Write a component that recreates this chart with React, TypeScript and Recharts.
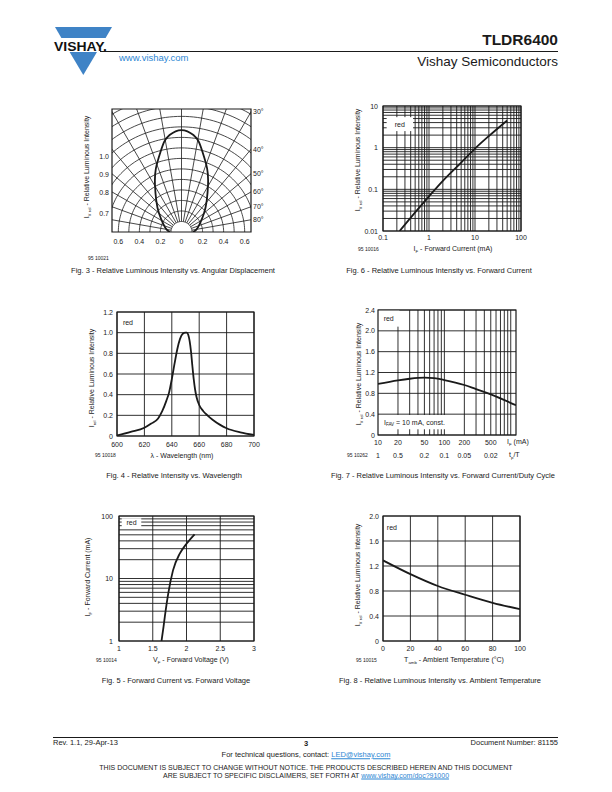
import React from "react";
import { ComposedChart, Line, XAxis, YAxis, CartesianGrid, ReferenceArea, ReferenceLine } from "recharts";

const FONT = "'Liberation Sans', Arial, Helvetica, sans-serif";
const INK = "#1a1a1a";
const BLUE = "#2d86d3";

// Fig. 3 - polar pattern (angle in degrees, relative intensity)
const polarAngles = [-90, -82, -66, -50, -39, -29, -22, -15, -11, -7, 0, 7, 11, 15, 22, 29, 39, 50, 66, 82, 90];
const polarIntensity = [0.11, 0.14, 0.19, 0.28, 0.38, 0.52, 0.65, 0.78, 0.87, 0.93, 0.97, 0.93, 0.87, 0.78, 0.65, 0.52, 0.38, 0.28, 0.19, 0.14, 0.11];
const polarBottomTicks = [-0.6, -0.4, -0.2, 0, 0.2, 0.4, 0.6];
const polarLeftLabels = ["1.0", "0.9", "0.8", "0.7"];
const polarLeftPos = [0.72, 0.55, 0.38, 0.18];
const polarTopAngles = [0, 10, 20];
const polarRightAngles = [30, 40, 50, 60, 70, 80];
const polarRings = [0.1, 0.2, 0.3, 0.4, 0.5, 0.6, 0.7, 0.8, 0.9, 1.0, 1.1, 1.2, 1.3];
const polarRays = [-80, -70, -60, -50, -40, -30, -20, -10, 0, 10, 20, 30, 40, 50, 60, 70, 80];

// Fig. 6 - Iv rel vs IF
const fig6If = [0.23, 0.5, 1, 2, 5, 10, 20, 50];
const fig6Iv = [0.01, 0.028, 0.068, 0.16, 0.44, 0.95, 1.9, 4.5];
const fig6XMajor = [0.1, 1, 10, 100];
const fig6YMajor = [0.01, 0.1, 1, 10];

// Fig. 4 - spectrum
const fig4Wl = [600, 610, 620, 625, 630, 633, 636, 638, 640, 642, 644, 646, 648, 650, 651, 652, 653, 654, 655, 656, 657, 658, 660, 663, 666, 670, 675, 680, 690, 700];
const fig4Rel = [0.005, 0.04, 0.08, 0.12, 0.17, 0.24, 0.34, 0.42, 0.55, 0.7, 0.84, 0.94, 0.99, 1.0, 1.0, 0.98, 0.92, 0.82, 0.68, 0.55, 0.45, 0.38, 0.3, 0.24, 0.2, 0.155, 0.11, 0.075, 0.035, 0.01];
const fig4XTicks = [600, 620, 640, 660, 680, 700];
const fig4YTicks = [0, 0.2, 0.4, 0.6, 0.8, 1.0, 1.2];

// Fig. 7 - Iv rel vs IF / duty cycle
const fig7If = [10, 20, 30, 50, 70, 100, 200, 300, 500, 1200];
const fig7Iv = [0.98, 1.05, 1.08, 1.1, 1.09, 1.055, 0.96, 0.88, 0.78, 0.57];
const fig7XLabels = [10, 20, 50, 100, 200, 500];
const fig7Duty = ["1", "0.5", "0.2", "0.1", "0.05", "0.02"];
const fig7YTicks = [0, 0.4, 0.8, 1.2, 1.6, 2.0, 2.4];

// Fig. 5 - IF vs VF
const fig5Vf = [1.63, 1.66, 1.68, 1.73, 1.8, 1.9, 2.0, 2.12];
const fig5If = [1, 1.7, 2.5, 5.8, 13.5, 25, 36, 51];
const fig5XTicks = [1, 1.5, 2, 2.5, 3];
const fig5YMajor = [1, 10, 100];

// Fig. 8 - Iv rel vs Tamb
const fig8T = [0, 20, 40, 60, 80, 100];
const fig8Iv = [1.29, 1.07, 0.88, 0.74, 0.61, 0.51];
const fig8XTicks = [0, 20, 40, 60, 80, 100];
const fig8YTicks = [0, 0.4, 0.8, 1.2, 1.6, 2.0];

const mant = [1, 2, 3, 4, 5, 6, 7, 8, 9];
const logTicks = (from: number, decades: number) => {
  const out: number[] = [];
  for (let d = 0; d < decades; d++) for (const m of mant) out.push(+(m * from * 10 ** d).toPrecision(3));
  out.push(+(from * 10 ** decades).toPrecision(3));
  return out;
};

const zip = (xs: number[], ys: number[]) => xs.map((x, i) => ({ x, y: ys[i] }));
const same = (a: number, b: number) => Math.abs(a - b) < 1e-6 * Math.max(1, Math.abs(a));

const tick = (fmt: (v: number) => string, anchor: "start" | "middle" | "end") => (p: any) => {
  const s = fmt(p.payload.value);
  if (!s) return <g />;
  return (
    <text x={p.x} y={p.y} textAnchor={anchor} dominantBaseline="central" fontSize={7} fontFamily={FONT} fill={INK}>
      {s}
    </text>
  );
};
const majorOnly = (majors: number[]) => (v: number) => (majors.some((m) => same(m, v)) ? String(v) : "");
const oneDec = (v: number) => (v === 0 ? "0" : v.toFixed(1));

const redLabel = { value: "red", position: "center" as const, fontSize: 7, fill: INK, fontFamily: FONT };
const GRID_W = 0.9;

const Sub = ({ children }: { children: React.ReactNode }) => (
  <span style={{ fontSize: "0.62em", position: "relative", top: "0.35em" }}>{children}</span>
);

type TxtProps = { x: number; y: number; size?: number; a?: "l" | "c" | "r"; bold?: boolean; color?: string; rot?: boolean; children: React.ReactNode };
function Txt({ x, y, size = 7, a = "l", bold, color = INK, rot, children }: TxtProps) {
  const tx = a === "l" ? "0" : a === "c" ? "-50%" : "-100%";
  return (
    <div
      style={{
        position: "absolute", left: x, top: y, fontSize: size, fontFamily: FONT, fontWeight: bold ? 700 : 400,
        color, whiteSpace: "nowrap", lineHeight: 1,
        transform: rot ? "translate(-50%,-50%) rotate(-90deg)" : `translate(${tx},-50%)`,
      }}
    >
      {children}
    </div>
  );
}

// ---------- Fig. 3 polar ----------
const PX = 0.66, PY = 1.17;
const rad = (d: number) => (d * Math.PI) / 180;
const toXY = (deg: number, r: number) => ({ x: r * Math.sin(rad(deg)), y: r * Math.cos(rad(deg)) });
const lobe = polarAngles.map((a, i) => toXY(a, polarIntensity[i]));
const ring = (r: number) => Array.from({ length: 91 }, (_, i) => toXY(-90 + i * 2, r));
const ray = (a: number) => [toXY(a, 0.1), toXY(a, 2)];
const topPos = polarTopAngles.map((a) => PY * Math.tan(rad(a)));
const rightPos = polarRightAngles.map((a) => PX / Math.tan(rad(a)));
const lookup = (pos: number[], labels: string[]) => (v: number) => {
  const i = pos.findIndex((p) => same(p, v));
  return i < 0 ? "" : labels[i];
};

function PolarChart() {
  return (
    <div style={{ position: "absolute", left: 76, top: 95 }}>
      <ComposedChart width={197} height={155} margin={{ top: 0, right: 0, left: 0, bottom: 0 }}>
        <XAxis dataKey="x" type="number" domain={[-PX, PX]} allowDataOverflow ticks={polarBottomTicks} interval={0}
          tickLine={false} axisLine={false} tickSize={0} tickMargin={9} height={18}
          tick={tick((v) => (v === 0 ? "0" : Math.abs(v).toFixed(1)), "middle")} />
        <XAxis xAxisId="top" orientation="top" type="number" domain={[-PX, PX]} allowDataOverflow ticks={topPos} interval={0}
          tickLine={false} axisLine={false} tickSize={0} tickMargin={6} height={14}
          tick={tick(lookup(topPos, polarTopAngles.map((a) => `${a}°`)), "middle")} />
        <YAxis type="number" domain={[0, PY]} allowDataOverflow ticks={polarLeftPos} interval={0}
          tickLine={false} axisLine={false} tickSize={0} tickMargin={3} width={36}
          tick={tick(lookup(polarLeftPos, polarLeftLabels), "end")} />
        <YAxis yAxisId="right" orientation="right" type="number" domain={[0, PY]} allowDataOverflow ticks={rightPos} interval={0}
          tickLine={false} axisLine={false} tickSize={0} tickMargin={2} width={22}
          tick={tick(lookup(rightPos, polarRightAngles.map((a) => `${a}°`)), "start")} />
        {polarRings.map((r) => (
          <Line key={`r${r}`} data={ring(r)} dataKey="y" type="linear" stroke={INK} strokeWidth={0.8} dot={false} isAnimationActive={false} />
        ))}
        {polarRays.map((a) => (
          <Line key={`a${a}`} data={ray(a)} dataKey="y" type="linear" stroke={INK} strokeWidth={0.8} dot={false} isAnimationActive={false} />
        ))}
        <ReferenceArea x1={-PX} x2={PX} y1={0} y2={PY} fill="none" stroke={INK} strokeWidth={1.2} />
        <Line data={lobe} dataKey="y" type="natural" stroke={INK} strokeWidth={1.8} dot={false} isAnimationActive={false} />
      </ComposedChart>
    </div>
  );
}

// ---------- generic cartesian frame ----------
type Box = [number, number, number, number];
const frame = (b: Box, l: number, r: number, t: number, btm: number) => ({
  pos: { position: "absolute" as const, left: b[0] - l, top: b[1] - t },
  w: b[2] - b[0] + l + r,
  h: b[3] - b[1] + t + btm,
  margin: { top: t, right: r, left: 0, bottom: 0 },
});

function Fig6() {
  const f = frame([383, 106, 521, 231], 30, 8, 6, 14);
  return (
    <div style={f.pos}>
      <ComposedChart width={f.w} height={f.h} margin={f.margin}>
        <CartesianGrid stroke={INK} strokeWidth={GRID_W} />
        <XAxis dataKey="x" type="number" scale="log" domain={[0.1, 100]} allowDataOverflow ticks={logTicks(0.1, 3)} interval={0}
          tickLine={false} axisLine={false} tickSize={0} tickMargin={6} height={14} tick={tick(majorOnly(fig6XMajor), "middle")} />
        <YAxis type="number" scale="log" domain={[0.01, 10]} allowDataOverflow ticks={logTicks(0.01, 3)} interval={0}
          tickLine={false} axisLine={false} tickSize={0} tickMargin={5} width={30} tick={tick(majorOnly(fig6YMajor), "end")} />
        <ReferenceArea x1={0.12} x2={0.45} y1={2.5} y2={5.4} fill="#fff" fillOpacity={1} stroke="none" label={redLabel} />
        <ReferenceArea x1={0.1} x2={100} y1={0.01} y2={10} fill="none" stroke={INK} strokeWidth={1.2} />
        <Line data={zip(fig6If, fig6Iv)} dataKey="y" type="monotone" stroke={INK} strokeWidth={1.8} dot={false} isAnimationActive={false} />
      </ComposedChart>
    </div>
  );
}

function Fig4() {
  const f = frame([117, 312, 254, 436], 30, 8, 6, 16);
  return (
    <div style={f.pos}>
      <ComposedChart width={f.w} height={f.h} margin={f.margin}>
        <CartesianGrid stroke={INK} strokeWidth={GRID_W} />
        <XAxis dataKey="x" type="number" domain={[600, 700]} allowDataOverflow ticks={fig4XTicks} interval={0}
          tickLine={false} axisLine={false} tickSize={0} tickMargin={8} height={16} tick={tick(String, "middle")} />
        <YAxis type="number" domain={[0, 1.2]} allowDataOverflow ticks={fig4YTicks} interval={0}
          tickLine={false} axisLine={false} tickSize={0} tickMargin={4} width={30} tick={tick(oneDec, "end")} />
        <ReferenceArea x1={602} x2={614} y1={1.05} y2={1.14} fill="none" stroke="none" label={redLabel} />
        <ReferenceArea x1={600} x2={700} y1={0} y2={1.2} fill="none" stroke={INK} strokeWidth={1.2} />
        <Line data={zip(fig4Wl, fig4Rel)} dataKey="y" type="monotone" stroke={INK} strokeWidth={1.8} dot={false} isAnimationActive={false} />
      </ComposedChart>
    </div>
  );
}

const fig7Tick = (p: any) => {
  const i = fig7XLabels.findIndex((v) => same(v, p.payload.value));
  if (i < 0) return <g />;
  return (
    <g fontSize={7} fontFamily={FONT} fill={INK}>
      <text x={p.x} y={p.y} textAnchor="middle" dominantBaseline="central">{fig7XLabels[i]}</text>
      <text x={p.x} y={p.y + 13} textAnchor="middle" dominantBaseline="central">{fig7Duty[i]}</text>
    </g>
  );
};

const fawLabel = (p: any) => {
  const vb = p.viewBox;
  return (
    <text x={vb.x + 6} y={vb.y + vb.height / 2} dominantBaseline="central" fontSize={7} fontFamily={FONT} fill={INK}>
      I<tspan fontSize={4.5} dy={2}>FAV</tspan><tspan dy={-2}> = 10 mA, const.</tspan>
    </text>
  );
};

// vertical grid of fig. 7, broken where the two label boxes sit
const fig7Grid = logTicks(10, 2).filter((v) => v > 10 && v < 1200);
const fig7RedBox = { x1: 10, x2: 21, y1: 2.08, y2: 2.4 };
const fig7FavBox = { x1: 10, x2: 147, y1: 0.11, y2: 0.385 };
const fig7Segments = (v: number): [number, number][] => {
  const top = v < fig7RedBox.x2 ? fig7RedBox.y1 : 2.4;
  return v < fig7FavBox.x2 ? [[0, fig7FavBox.y1], [fig7FavBox.y2, top]] : [[0, top]];
};

function Fig7() {
  const f = frame([378, 310, 516, 435], 30, 8, 6, 26);
  return (
    <div style={f.pos}>
      <ComposedChart width={f.w} height={f.h} margin={f.margin}>
        <CartesianGrid stroke={INK} strokeWidth={GRID_W} vertical={false} />
        <XAxis dataKey="x" type="number" scale="log" domain={[10, 1200]} allowDataOverflow ticks={logTicks(10, 2)} interval={0}
          tickLine={false} axisLine={false} tickSize={0} tickMargin={7} height={26} tick={fig7Tick} />
        <YAxis type="number" domain={[0, 2.4]} allowDataOverflow ticks={fig7YTicks} interval={0}
          tickLine={false} axisLine={false} tickSize={0} tickMargin={3} width={30} tick={tick(oneDec, "end")} />
        <ReferenceArea {...fig7RedBox} fill="#fff" fillOpacity={1} stroke="none" label={redLabel} />
        <ReferenceArea {...fig7FavBox} fill="#fff" fillOpacity={1} stroke="none" label={fawLabel} />
        {fig7Grid.flatMap((v) =>
          fig7Segments(v).map(([a, b]) => (
            <ReferenceLine key={`${v}-${a}`} segment={[{ x: v, y: a }, { x: v, y: b }]} stroke={INK} strokeWidth={GRID_W} />
          ))
        )}
        <ReferenceArea x1={10} x2={1200} y1={0} y2={2.4} fill="none" stroke={INK} strokeWidth={1.2} />
        <Line data={zip(fig7If, fig7Iv)} dataKey="y" type="monotone" stroke={INK} strokeWidth={1.8} dot={false} isAnimationActive={false} />
      </ComposedChart>
    </div>
  );
}

function Fig5() {
  const f = frame([119, 516, 254, 641], 30, 8, 6, 16);
  return (
    <div style={f.pos}>
      <ComposedChart width={f.w} height={f.h} margin={f.margin}>
        <CartesianGrid stroke={INK} strokeWidth={GRID_W} />
        <XAxis dataKey="x" type="number" domain={[1, 3]} allowDataOverflow ticks={fig5XTicks} interval={0}
          tickLine={false} axisLine={false} tickSize={0} tickMargin={7} height={16} tick={tick(String, "middle")} />
        <YAxis type="number" scale="log" domain={[1, 100]} allowDataOverflow ticks={logTicks(1, 2)} interval={0}
          tickLine={false} axisLine={false} tickSize={0} tickMargin={6} width={30} tick={tick(majorOnly(fig5YMajor), "end")} />
        <ReferenceArea x1={1.04} x2={1.33} y1={66} y2={92} fill="#fff" fillOpacity={1} stroke="none" label={redLabel} />
        <ReferenceArea x1={1} x2={3} y1={1} y2={100} fill="none" stroke={INK} strokeWidth={1.2} />
        <Line data={zip(fig5Vf, fig5If)} dataKey="y" type="monotone" stroke={INK} strokeWidth={1.8} dot={false} isAnimationActive={false} />
      </ComposedChart>
    </div>
  );
}

function Fig8() {
  const f = frame([383, 516, 520, 641], 30, 8, 6, 16);
  return (
    <div style={f.pos}>
      <ComposedChart width={f.w} height={f.h} margin={f.margin}>
        <CartesianGrid stroke={INK} strokeWidth={GRID_W} />
        <XAxis dataKey="x" type="number" domain={[0, 100]} allowDataOverflow ticks={fig8XTicks} interval={0}
          tickLine={false} axisLine={false} tickSize={0} tickMargin={7} height={16} tick={tick(String, "middle")} />
        <YAxis type="number" domain={[0, 2]} allowDataOverflow ticks={fig8YTicks} interval={0}
          tickLine={false} axisLine={false} tickSize={0} tickMargin={4} width={30} tick={tick(oneDec, "end")} />
        <ReferenceArea x1={2} x2={11} y1={1.75} y2={1.87} fill="none" stroke="none" label={redLabel} />
        <ReferenceArea x1={0} x2={100} y1={0} y2={2} fill="none" stroke={INK} strokeWidth={1.2} />
        <Line data={zip(fig8T, fig8Iv)} dataKey="y" type="monotone" stroke={INK} strokeWidth={1.8} dot={false} isAnimationActive={false} />
      </ComposedChart>
    </div>
  );
}

function Logo() {
  return (
    <svg width={70} height={56} style={{ position: "absolute", left: 48, top: 24 }} viewBox="48 24 70 56">
      <polygon points="55,27 112,27 105.6,38 61.4,38" fill="#3f83c6" />
      <polygon points="69.6,52 97,52 83.3,75" fill="#3f83c6" />
      <text x={54} y={50.5} fontFamily={FONT} fontWeight={700} fontSize={13} textLength={53} lengthAdjust="spacingAndGlyphs" fill="#111">
        VISHAY.
      </text>
    </svg>
  );
}

const Ivrel = () => (<>I<Sub>V rel</Sub></>);

export default function App() {
  return (
    <div style={{ position: "absolute", left: 0, top: 0, width: 612, height: 792, background: "#fff", overflow: "hidden" }}>
      {/* header */}
      <Logo />
      <div style={{ position: "absolute", left: 100, top: 51, width: 458, height: 1.3, background: INK }} />
      <Txt x={558} y={40} a="r" size={15.5} bold>TLDR6400</Txt>
      <Txt x={558} y={62} a="r" size={13.5}>Vishay Semiconductors</Txt>
      <Txt x={119} y={58} size={9.5} color={BLUE}>www.vishay.com</Txt>

      {/* Fig. 3 */}
      <PolarChart />
      <Txt x={87} y={167} rot><Ivrel /> - Relative Luminous Intensity</Txt>
      <Txt x={88} y={258} size={5}>95 10021</Txt>
      <Txt x={173} y={271} a="c" size={7.5}>Fig. 3 - Relative Luminous Intensity vs. Angular Displacement</Txt>

      {/* Fig. 6 */}
      <Fig6 />
      <Txt x={358} y={160} rot><Ivrel /> - Relative Luminous Intensity</Txt>
      <Txt x={453} y={249} a="c">I<Sub>F</Sub> - Forward Current (mA)</Txt>
      <Txt x={358} y={249} size={5}>95 10016</Txt>
      <Txt x={439} y={271} a="c" size={7.5}>Fig. 6 - Relative Luminous Intensity vs. Forward Current</Txt>

      {/* Fig. 4 */}
      <Fig4 />
      <Txt x={92} y={378} rot>I<Sub>rel</Sub> - Relative Luminous Intensity</Txt>
      <Txt x={182} y={455} a="c">λ - Wavelength (nm)</Txt>
      <Txt x={95} y={455} size={5}>95 10018</Txt>
      <Txt x={174} y={476} a="c" size={7.5}>Fig. 4 - Relative Intensity vs. Wavelength</Txt>

      {/* Fig. 7 */}
      <Fig7 />
      <Txt x={359} y={374} rot><Ivrel /> - Relative Luminous Intensity</Txt>
      <Txt x={507} y={442}>I<Sub>F</Sub> (mA)</Txt>
      <Txt x={509} y={455}>t<Sub>p</Sub>/T</Txt>
      <Txt x={347} y={455} size={5}>95 10262</Txt>
      <Txt x={443} y={476} a="c" size={7.5}>Fig. 7 - Relative Luminous Intensity vs. Forward Current/Duty Cycle</Txt>

      {/* Fig. 5 */}
      <Fig5 />
      <Txt x={88} y={577} rot>I<Sub>F</Sub> - Forward Current (mA)</Txt>
      <Txt x={191} y={660} a="c">V<Sub>F</Sub> - Forward Voltage (V)</Txt>
      <Txt x={96} y={660} size={5}>95 10014</Txt>
      <Txt x={176} y={681} a="c" size={7.5}>Fig. 5 - Forward Current vs. Forward Voltage</Txt>

      {/* Fig. 8 */}
      <Fig8 />
      <Txt x={358} y={575} rot><Ivrel /> - Relative Luminous Intensity</Txt>
      <Txt x={454} y={660} a="c">T<Sub>amb</Sub> - Ambient Temperature (°C)</Txt>
      <Txt x={356} y={660} size={5}>95 10015</Txt>
      <Txt x={440} y={681} a="c" size={7.5}>Fig. 8 - Relative Luminous Intensity vs. Ambient Temperature</Txt>

      {/* footer */}
      <div style={{ position: "absolute", left: 53, top: 737, width: 505, height: 1, background: INK }} />
      <Txt x={53} y={743} size={7.5}>Rev. 1.1, 29-Apr-13</Txt>
      <Txt x={306} y={744} a="c" size={7.5} bold>3</Txt>
      <Txt x={558} y={743} a="r" size={7.5}>Document Number: 81155</Txt>
      <Txt x={306} y={755} a="c" size={7.5}>
        For technical questions, contact: <span style={{ color: BLUE, textDecoration: "underline" }}>LED@vishay.com</span>
      </Txt>
      <Txt x={306} y={767} a="c" size={7}>THIS DOCUMENT IS SUBJECT TO CHANGE WITHOUT NOTICE. THE PRODUCTS DESCRIBED HEREIN AND THIS DOCUMENT</Txt>
      <Txt x={306} y={775} a="c" size={7}>
        ARE SUBJECT TO SPECIFIC DISCLAIMERS, SET FORTH AT <span style={{ color: BLUE, textDecoration: "underline" }}>www.vishay.com/doc?91000</span>
      </Txt>
    </div>
  );
}
